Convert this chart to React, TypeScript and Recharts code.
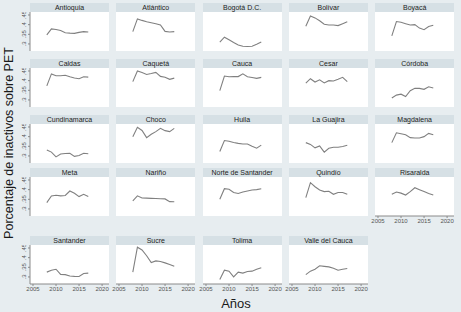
import React from "react";
import { LineChart, Line, XAxis, YAxis } from "recharts";

const years = [2008, 2009, 2010, 2011, 2012, 2013, 2014, 2015, 2016, 2017];
const xTicks = [2005, 2010, 2015, 2020];
const yTicks = [0.3, 0.35, 0.4, 0.45];

const antioquia = [0.347, 0.378, 0.375, 0.37, 0.358, 0.356, 0.355, 0.36, 0.364, 0.362];
const atlantico = [0.364, 0.43, 0.422, 0.415, 0.41, 0.405, 0.398, 0.365, 0.362, 0.364];
const bogota = [0.31, 0.335, 0.322, 0.308, 0.295, 0.288, 0.287, 0.288, 0.298, 0.31];
const bolivar = [0.392, 0.445, 0.435, 0.42, 0.402, 0.398, 0.398, 0.395, 0.405, 0.415];
const boyaca = [0.342, 0.416, 0.412, 0.405, 0.398, 0.4, 0.382, 0.374, 0.39, 0.397];
const caldas = [0.373, 0.435, 0.425, 0.425, 0.428, 0.42, 0.414, 0.41, 0.42, 0.418];
const caqueta = [0.395, 0.45, 0.442, 0.432, 0.437, 0.443, 0.422, 0.418, 0.407, 0.413];
const cauca = [0.348, 0.424, 0.42, 0.421, 0.421, 0.435, 0.42, 0.416, 0.412, 0.417];
const cesar = [0.387, 0.41, 0.393, 0.404, 0.388, 0.4, 0.398, 0.407, 0.417, 0.395];
const cordoba = [0.31, 0.325, 0.33, 0.318, 0.348, 0.36, 0.36, 0.355, 0.368, 0.362];
const cundinamarca = [0.331, 0.32, 0.295, 0.31, 0.313, 0.314, 0.298, 0.302, 0.314, 0.311];
const choco = [0.4, 0.448, 0.432, 0.395, 0.412, 0.426, 0.443, 0.431, 0.426, 0.443];
const huila = [0.323, 0.38, 0.376, 0.37, 0.365, 0.362, 0.362, 0.35, 0.34, 0.356];
const laGuajira = [0.369, 0.36, 0.342, 0.352, 0.32, 0.34, 0.345, 0.345, 0.349, 0.355];
const magdalena = [0.369, 0.42, 0.415, 0.41, 0.395, 0.393, 0.393, 0.4, 0.417, 0.41];
const meta = [0.333, 0.367, 0.371, 0.368, 0.37, 0.393, 0.381, 0.364, 0.376, 0.364];
const narino = [0.342, 0.368, 0.357, 0.356, 0.355, 0.354, 0.353, 0.352, 0.338, 0.337];
const norteSantander = [0.35, 0.405, 0.402, 0.385, 0.38, 0.388, 0.393, 0.398, 0.4, 0.405];
const quindio = [0.359, 0.436, 0.415, 0.398, 0.39, 0.392, 0.376, 0.385, 0.385, 0.376];
const risaralda = [0.376, 0.388, 0.382, 0.372, 0.39, 0.41, 0.4, 0.39, 0.38, 0.372];
const santander = [0.325, 0.335, 0.34, 0.313, 0.312, 0.305, 0.303, 0.302, 0.318, 0.32];
const sucre = [0.325, 0.454, 0.44, 0.41, 0.375, 0.383, 0.38, 0.373, 0.365, 0.355];
const tolima = [0.287, 0.335, 0.33, 0.3, 0.325, 0.32, 0.328, 0.33, 0.34, 0.348];
const valle = [0.312, 0.33, 0.34, 0.358, 0.355, 0.352, 0.345, 0.335, 0.34, 0.344];

const panels: { name: string; values: number[] }[] = [
  { name: "Antioquia", values: antioquia },
  { name: "Atlántico", values: atlantico },
  { name: "Bogotá D.C.", values: bogota },
  { name: "Bolívar", values: bolivar },
  { name: "Boyacá", values: boyaca },
  { name: "Caldas", values: caldas },
  { name: "Caquetá", values: caqueta },
  { name: "Cauca", values: cauca },
  { name: "Cesar", values: cesar },
  { name: "Córdoba", values: cordoba },
  { name: "Cundinamarca", values: cundinamarca },
  { name: "Choco", values: choco },
  { name: "Huila", values: huila },
  { name: "La Guajira", values: laGuajira },
  { name: "Magdalena", values: magdalena },
  { name: "Meta", values: meta },
  { name: "Nariño", values: narino },
  { name: "Norte de Santander", values: norteSantander },
  { name: "Quindío", values: quindio },
  { name: "Risaralda", values: risaralda },
  { name: "Santander", values: santander },
  { name: "Sucre", values: sucre },
  { name: "Tolima", values: tolima },
  { name: "Valle del Cauca", values: valle },
];

const BG = "#e7edf0";
const HEADER = "#d6e0e5";
const LINE = "#808080";
const TICK = "#555";

const COL_LEFT = 30;
const COL_PITCH = 86.3;
const PLOT_W = 79;
const PLOT_H = 39;
const HEADER_H = 9;
const ROW_TOP = [3, 59, 115, 168, 236];
const Y_AXIS_W = 14;
const X_AXIS_H = 14;
const PAD = 7; // room so edge tick labels are not clipped

const fmtY = (v: number) => String(v).replace(/^0/, "");

const YTick = (p: any) => (
  <text
    x={p.x}
    y={p.y}
    transform={`rotate(-90 ${p.x} ${p.y})`}
    textAnchor="middle"
    fontSize={6}
    fill={TICK}
  >
    {fmtY(p.payload.value)}
  </text>
);

function Panel({ idx }: { idx: number }) {
  const { name, values } = panels[idx];
  const col = idx % 5;
  const row = Math.floor(idx / 5);
  const left = COL_LEFT + COL_PITCH * col;
  const headerTop = ROW_TOP[row];
  const plotTop = headerTop + HEADER_H;
  const showY = col === 0;
  const showX = row === 4 || idx === 19;
  const data = years.map((y, i) => ({ year: y, v: values[i] }));
  const yW = showY ? Y_AXIS_W : 0;

  return (
    <>
      <div
        style={{
          position: "absolute",
          left,
          top: headerTop,
          width: PLOT_W,
          height: HEADER_H,
          background: HEADER,
          fontSize: 7,
          lineHeight: `${HEADER_H}px`,
          textAlign: "center",
          color: "#222",
          whiteSpace: "nowrap",
        }}
      >
        {name}
      </div>
      <div
        style={{
          position: "absolute",
          left,
          top: plotTop,
          width: PLOT_W,
          height: PLOT_H,
          background: "#fff",
        }}
      />
      <div style={{ position: "absolute", left: left - yW - PAD, top: plotTop }}>
        <LineChart
          width={PLOT_W + yW + 2 * PAD}
          height={PLOT_H + (showX ? X_AXIS_H : 0)}
          data={data}
          margin={{ top: 0, right: PAD, bottom: 0, left: PAD }}
          style={{ fontFamily: "'Liberation Sans', Arial, sans-serif" }}
        >
          <XAxis
            dataKey="year"
            type="number"
            domain={[2004.35, 2021.5]}
            ticks={xTicks}
            hide={!showX}
            height={X_AXIS_H}
            tickSize={2}
            tickMargin={1}
            tick={{ fontSize: 6, fill: TICK }}
            axisLine={{ stroke: "#8a8a8a" }}
            tickLine={{ stroke: "#8a8a8a" }}
            interval={0}
            allowDataOverflow
          />
          <YAxis
            type="number"
            domain={[0.2635, 0.4655]}
            ticks={yTicks}
            hide={!showY}
            width={Y_AXIS_W}
            tickSize={2}
            tickMargin={2}
            tick={YTick}
            axisLine={{ stroke: "#8a8a8a" }}
            tickLine={{ stroke: "#8a8a8a" }}
            interval={0}
            allowDataOverflow
          />
          <Line
            type="linear"
            dataKey="v"
            stroke={LINE}
            strokeWidth={1.1}
            dot={false}
            isAnimationActive={false}
          />
        </LineChart>
      </div>
    </>
  );
}

export default function App() {
  return (
    <div
      style={{
        position: "absolute",
        left: 0,
        top: 0,
        width: 461,
        height: 312,
        background: BG,
        overflow: "hidden",
        fontFamily: "'Liberation Sans', Arial, sans-serif",
      }}
    >
      {panels.map((_, i) => (
        <Panel key={i} idx={i} />
      ))}
      <div
        style={{
          position: "absolute",
          left: 9,
          top: 143,
          transform: "translate(-50%, -50%) rotate(-90deg)",
          fontSize: 12.5,
          color: "#1a1a1a",
          whiteSpace: "nowrap",
        }}
      >
        Porcentaje de inactivos sobre PET
      </div>
      <div
        style={{
          position: "absolute",
          left: 236,
          top: 303,
          transform: "translate(-50%, -50%)",
          fontSize: 13,
          color: "#1a1a1a",
          whiteSpace: "nowrap",
        }}
      >
        Años
      </div>
    </div>
  );
}
